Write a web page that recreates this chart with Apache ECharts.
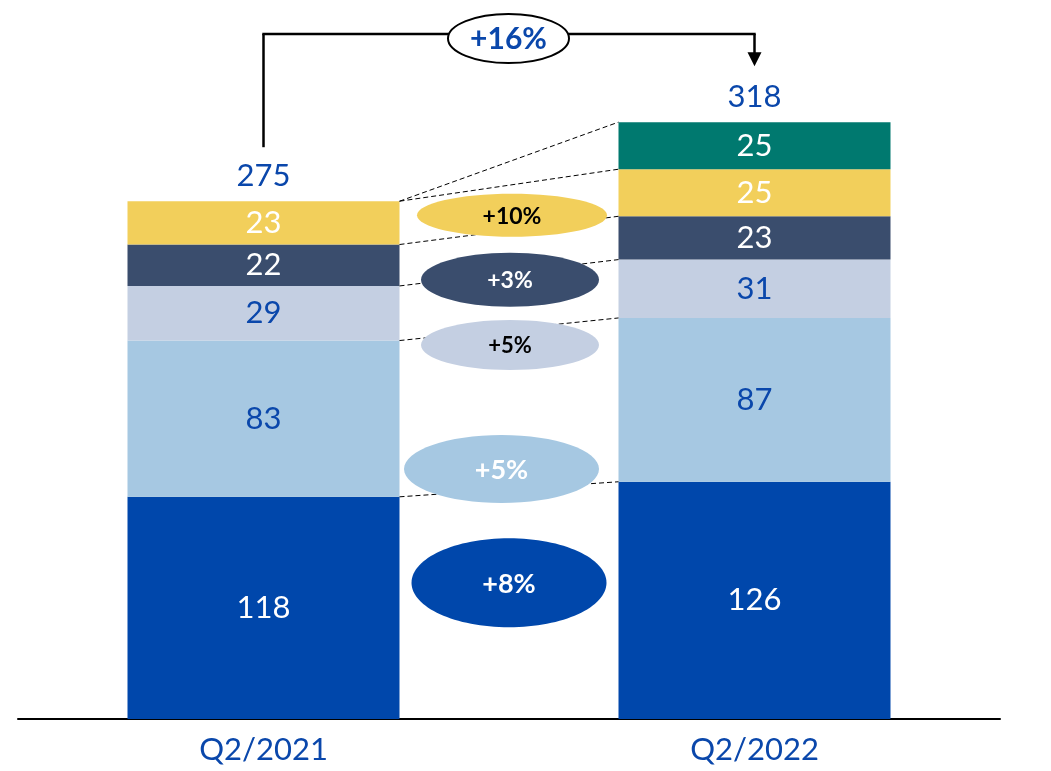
<!DOCTYPE html>
<html><head><meta charset="utf-8">
<script src="https://cdn.jsdelivr.net/npm/echarts@6/dist/echarts.min.js"></script>
<style>html,body{margin:0;padding:0;background:#fff}#c{width:1051px;height:771px}</style>
</head><body><div id="c"></div>
<script>
// ---- data ----
const categories = ['Q2/2021', 'Q2/2022'];
const segA = [118, 126];   // bottom (dark blue)
const segB = [83, 87];     // light blue
const segC = [29, 31];     // pale blue-grey
const segD = [22, 23];     // navy
const segE = [23, 25];     // yellow
const segF = [0, 25];      // teal (new in 2022)
const totals = [275, 318];
const growthLabels = ['+8%', '+5%', '+5%', '+3%', '+10%'];
const totalGrowthLabel = '+16%';

// ---- styling / layout ----
const FONT = 'Lato, "Open Sans", sans-serif';
const BLUE_TXT = '#0A47AB';
const BAR_W = 272;
const HALF = BAR_W / 2;
const segs = [segA, segB, segC, segD, segE, segF];
const segColors = ['#0047AB', '#A6C8E2', '#C4CFE2', '#3A4D6D', '#F2CF5B', '#00796F'];
const segTextColors = ['#fff', BLUE_TXT, BLUE_TXT, '#fff', '#fff', '#fff'];
const bubbleLayout = [
  {fill: '#0047AB', color: '#fff', at: 72.3, dx: 0, rx: 97.5, ry: 44.5, fs: 27, fw: 'bold'},
  {fill: '#A6C8E2', color: '#fff', at: 132.8, dx: -7.5, rx: 97.5, ry: 34, fs: 27, fw: 'bold'},
  {fill: '#C4CFE2', color: '#000', at: 198.7, dx: 1, rx: 89, ry: 25, fs: 22, fw: 'bold'},
  {fill: '#3A4D6D', color: '#fff', at: 233.3, dx: 1, rx: 89, ry: 27, fs: 23, fw: 'bold'},
  {fill: '#F2CF5B', color: '#000', at: 267.5, dx: 3, rx: 95, ry: 21.5, fs: 23, fw: 'bold'}
];

// cumulative stack levels
const cum = [[0, 0]];
segs.forEach((s, i) => cum.push([cum[i][0] + s[0], cum[i][1] + s[1]]));
const levels = cum.slice(1);

const barSeries = segs.map((s, i) => ({
  type: 'bar', stack: 'total', barWidth: BAR_W, data: s,
  itemStyle: {color: segColors[i]},
  label: {
    show: true, position: 'inside', color: segTextColors[i],
    fontFamily: FONT, fontSize: 31,
    formatter: p => (p.value ? String(p.value) : '')
  },
  z: 2
}));

const connectorSeries = {
  type: 'custom', z: 3, silent: true,
  data: levels.map(l => [0, l[0], l[1]]),
  encode: {x: 0, y: [1, 2]},
  renderItem: (params, api) => {
    const a = api.coord([0, api.value(1)]);
    const b = api.coord([1, api.value(2)]);
    return {type: 'line', shape: {x1: a[0] + HALF, y1: a[1], x2: b[0] - HALF, y2: b[1]},
      style: {stroke: '#000', lineWidth: 1, lineDash: [5, 3]}};
  }
};

const bubbleSeries = {
  type: 'custom', z: 5, silent: true,
  data: growthLabels.map((g, i) => [0, bubbleLayout[i].at]),
  encode: {x: 0, y: 1},
  renderItem: (params, api) => {
    const L = bubbleLayout[params.dataIndex];
    const a = api.coord([0, L.at]);
    const b = api.coord([1, L.at]);
    const cx = (a[0] + b[0]) / 2 + L.dx, cy = a[1];
    return {type: 'group', children: [
      {type: 'ellipse', shape: {cx: cx, cy: cy, rx: L.rx, ry: L.ry}, style: {fill: L.fill}},
      {type: 'text', style: {text: growthLabels[params.dataIndex], x: cx, y: cy + 1,
        align: 'center', verticalAlign: 'middle', fill: L.color,
        fontFamily: FONT, fontSize: L.fs, fontWeight: L.fw}}
    ]};
  }
};

const totalSeries = {
  type: 'custom', z: 5, silent: true,
  data: totals.map((t, i) => [i, levels[levels.length - 1][i], t]),
  encode: {x: 0, y: 1},
  renderItem: (params, api) => {
    const p = api.coord([api.value(0), api.value(1)]);
    return {type: 'text', style: {text: String(api.value(2)), x: p[0], y: p[1] - 25,
      align: 'center', verticalAlign: 'middle', fill: BLUE_TXT, fontFamily: FONT, fontSize: 31}};
  }
};

const bracketSeries = {
  type: 'custom', z: 6, silent: true,
  data: [[0, levels[levels.length - 1][0], levels[levels.length - 1][1]]],
  encode: {x: 0, y: [1, 2]},
  renderItem: (params, api) => {
    const a = api.coord([0, api.value(1)]);
    const b = api.coord([1, api.value(2)]);
    const yTop = 34;
    const ls = {stroke: '#000', lineWidth: 2.5};
    const mx = (a[0] + b[0]) / 2 - 0.5;
    return {type: 'group', children: [
      {type: 'line', shape: {x1: a[0], y1: a[1] - 54, x2: a[0], y2: yTop}, style: ls},
      {type: 'line', shape: {x1: a[0] - 1.2, y1: yTop, x2: b[0] + 1.2, y2: yTop}, style: ls},
      {type: 'line', shape: {x1: b[0], y1: yTop, x2: b[0], y2: b[1] - 69}, style: ls},
      {type: 'polygon', shape: {points: [[b[0] - 7, b[1] - 70], [b[0] + 7, b[1] - 70], [b[0], b[1] - 56]]}, style: {fill: '#000'}},
      {type: 'ellipse', shape: {cx: mx, cy: 38.5, rx: 60.5, ry: 24.5}, style: {fill: '#fff', stroke: '#000', lineWidth: 2}},
      {type: 'text', style: {text: totalGrowthLabel, x: mx, y: 39, align: 'center', verticalAlign: 'middle',
        fill: BLUE_TXT, fontFamily: FONT, fontSize: 30, fontWeight: 'bold'}}
    ]};
  }
};

const chart = echarts.init(document.getElementById('c'), null, {renderer: 'canvas'});
chart.setOption({
  animation: false,
  backgroundColor: '#fff',
  grid: {left: 18, right: 51, top: 60, bottom: 52, containLabel: false},
  xAxis: {
    type: 'category', data: categories,
    axisLine: {lineStyle: {color: '#000', width: 2}},
    axisTick: {show: false},
    axisLabel: {color: BLUE_TXT, fontFamily: FONT, fontSize: 31, margin: 15}
  },
  yAxis: {type: 'value', min: 0, max: 350, show: false, splitLine: {show: false}},
  series: [...barSeries, connectorSeries, bubbleSeries, totalSeries, bracketSeries]
});
</script></body></html>
